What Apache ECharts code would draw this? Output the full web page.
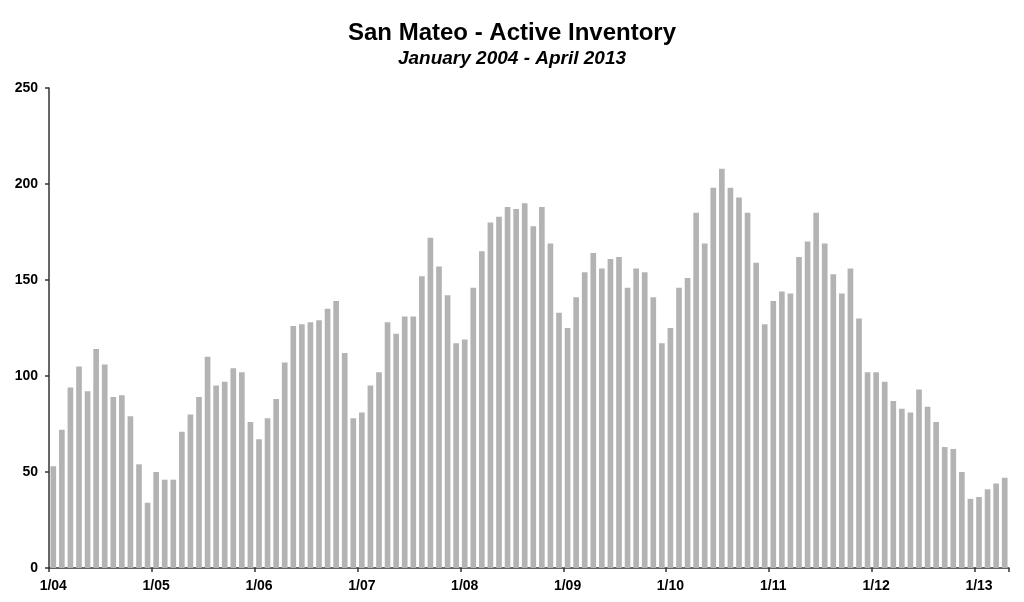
<!DOCTYPE html>
<html>
<head>
<meta charset="utf-8">
<script src="https://cdn.jsdelivr.net/npm/echarts@6/dist/echarts.min.js"></script>
<style>html,body{margin:0;padding:0;background:#fff}#c{width:1024px;height:602px}</style>
</head>
<body>
<div id="c"></div>
<script>
var titleText = 'San Mateo - Active Inventory';
var subtitleText = 'January 2004 - April 2013';
var startYear = 2004;
var monthCount = 112;
var yTicks = [0, 50, 100, 150, 200, 250];
var inventory = [
  53, 72, 94, 105, 92, 114, 106, 89, 90, 79, 54, 34,
  50, 46, 46, 71, 80, 89, 110, 95, 97, 104, 102, 76,
  67, 78, 88, 107, 126, 127, 128, 129, 135, 139, 112, 78,
  81, 95, 102, 128, 122, 131, 131, 152, 172, 157, 142, 117,
  119, 146, 165, 180, 183, 188, 187, 190, 178, 188, 169, 133,
  125, 141, 154, 164, 156, 161, 162, 146, 156, 154, 141, 117,
  125, 146, 151, 185, 169, 198, 208, 198, 193, 185, 159, 127,
  139, 144, 143, 162, 170, 185, 169, 153, 143, 156, 130, 102,
  102, 97, 87, 83, 81, 93, 84, 76, 63, 62, 50, 36,
  37, 41, 44, 47
];
var categories = [];
for (var i = 0; i < monthCount; i++) {
  var y = startYear + Math.floor(i / 12);
  var m = (i % 12) + 1;
  categories.push(m + '/' + String(y).slice(2));
}
var chart = echarts.init(document.getElementById('c'), null, {renderer: 'canvas'});
var font = '"Liberation Sans", Arial, Helvetica, sans-serif';
chart.setOption({
  animation: false,
  backgroundColor: '#fff',
  title: [
    {text: titleText, left: 'center', top: 16,
     textStyle: {fontFamily: font, fontSize: 24, fontWeight: 'bold', color: '#000'}},
    {text: subtitleText, left: 'center', top: 44,
     textStyle: {fontFamily: font, fontSize: 19, fontWeight: 'bold', fontStyle: 'italic', color: '#000'}}
  ],
  grid: {left: 49, right: 15, top: 88, bottom: 34, containLabel: false},
  xAxis: {
    type: 'category',
    data: categories,
    boundaryGap: true,
    axisLine: {lineStyle: {color: '#333', width: 1.5}},
    axisTick: {show: true, interval: 11, length: 4, lineStyle: {color: '#333', width: 1.5}},
    axisLabel: {interval: 11, margin: 11, color: '#000', fontFamily: font, fontSize: 14, fontWeight: 'bold'},
    splitLine: {show: false}
  },
  yAxis: {
    type: 'value',
    min: yTicks[0],
    max: yTicks[yTicks.length - 1],
    interval: 50,
    axisLine: {show: true, lineStyle: {color: '#333', width: 1.5}},
    axisTick: {show: true, length: 4, lineStyle: {color: '#333', width: 1.5}},
    axisLabel: {margin: 11, color: '#000', fontFamily: font, fontSize: 14, fontWeight: 'bold'},
    splitLine: {show: false}
  },
  series: [{
    type: 'bar',
    data: inventory,
    barCategoryGap: '34%',
    itemStyle: {color: '#b3b3b3'}
  }]
});
</script>
</body>
</html>
